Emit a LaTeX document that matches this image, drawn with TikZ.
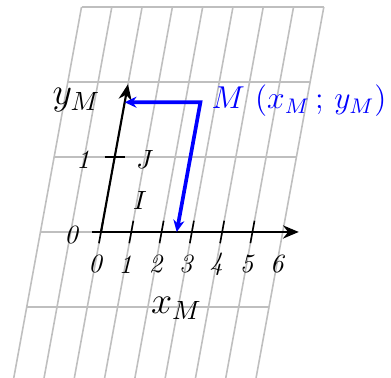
\documentclass[tikz,border=0pt]{standalone}
\usetikzlibrary{arrows.meta}
\begin{document}
\begin{tikzpicture}[x={(11.49pt,0pt)}, y={(5.197pt,28.45pt)},
  gridline/.style={gray!50, line width=0.6pt},
  axisline/.style={line width=0.8pt, -{Stealth[length=6pt,width=5pt]}},
  tickline/.style={line width=0.6pt},
  projline/.style={blue, line width=1.4pt, line join=miter, {Stealth[length=4.5pt,width=4.2pt,inset=1.5pt]}-{Stealth[length=4.5pt,width=4.2pt,inset=1.5pt]}},
  lab/.style={inner sep=0pt, font=\itshape}]
\useasboundingbox (-38.32pt,-55.39pt) rectangle (110.01pt,88.01pt);
\clip (-38.32pt,-55.39pt) rectangle (110.01pt,88.01pt);
% grid
\foreach \i in {-2,...,6} \draw[gridline] (\i,-2.3) -- (\i,3);
\foreach \j in {-1,...,3} \draw[gridline] (-2,\j) -- (6,\j);
% axes
\coordinate (O) at (0,0);
\coordinate (Xs) at (-0.3,0);
\coordinate (Xe) at (6.53,0);
\coordinate (Yt) at (0,1.97);
\draw[axisline] (Xs) -- (Xe);
\draw[axisline] (O) -- (Yt);
\foreach \i in {0,...,5} \draw[tickline] (\i,-0.15) -- (\i,0.15);
\coordinate (T1a) at (-0.33,1);
\coordinate (T1b) at (0.33,1);
\draw[tickline] (T1a) -- (T1b);
% labels on axes
\foreach \i in {0,...,6} \node[lab] (xl\i) at (\i,-0.43) {\i};
\node[lab] (y0) at (-11.38pt,-1.14pt) {0};
\node[lab] (y1) at (-6.83pt,27.50pt) {1};
\node[inner sep=0pt] (J) at (16.69pt,27.50pt) {$J$};
\node[inner sep=0pt] (I) at (14.80pt,11.76pt) {$I$};
\node[inner sep=0pt, font=\Large] (yM) at (-9.29pt,50.08pt) {$y_M$};
\node[inner sep=0pt, font=\Large] (xM) at (28.64pt,-29.02pt) {$x_M$};
% point M and projections
\coordinate (M) at (2.5,1.73);
\coordinate (Mx) at (2.5,0);
\coordinate (My) at (0,1.73);
\draw[projline] (My) -- (M) -- (Mx);
\node[inner sep=0pt, anchor=west, blue, font=\large] (Ml) at (41.73pt,49.70pt) {$M\ (x_M\,;\,y_M)$};
\end{tikzpicture}
\end{document}
